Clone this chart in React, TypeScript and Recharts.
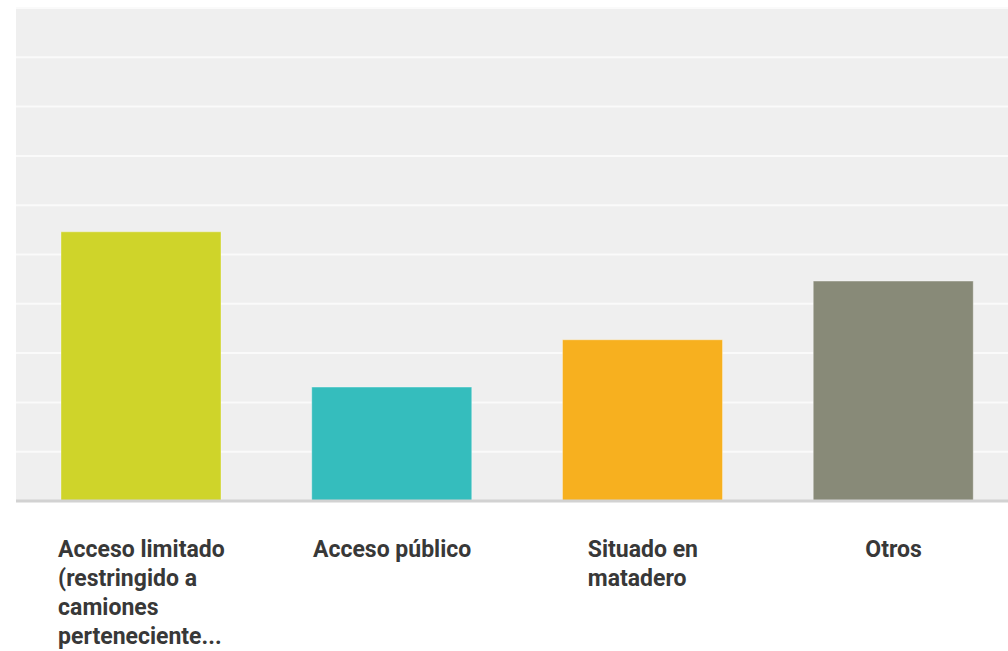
import React from "react";
import { BarChart, Bar, XAxis, YAxis, CartesianGrid, Cell } from "recharts";

const categories = [
  "Acceso limitado (restringido a camiones perteneciente...",
  "Acceso público",
  "Situado en matadero",
  "Otros",
];
const labelLines = [
  ["Acceso limitado", "(restringido a", "camiones", "perteneciente..."],
  ["Acceso público"],
  ["Situado en", "matadero"],
  ["Otros"],
];
const values = [5.46, 2.31, 3.27, 4.46];
const colors = ["#cfd42a", "#35bdbd", "#f7b01f", "#888a78"];
const yTicks = [0, 1, 2, 3, 4, 5, 6, 7, 8, 9, 10];

const data = categories.map((c, i) => ({ name: c, value: values[i] }));

const FONT = "bold 23px Roboto";
let ctx: CanvasRenderingContext2D | null = null;
function measure(t: string): number {
  if (typeof document === "undefined") return t.length * 11;
  if (!ctx) ctx = document.createElement("canvas").getContext("2d");
  if (!ctx) return t.length * 11;
  ctx.font = FONT;
  return ctx.measureText(t).width;
}

function Tick(props: any) {
  const { x, y, payload } = props;
  const idx = categories.indexOf(payload.value);
  const lines = labelLines[idx] || [String(payload.value)];
  const w = Math.max(...lines.map(measure));
  const left = x - w / 2;
  return (
    <g>
      {lines.map((l, i) => (
        <text
          key={i}
          x={left}
          y={y + 56 + i * 29}
          textAnchor="start"
          fill="#383838"
          style={{ fontFamily: "Roboto", fontWeight: 700, fontSize: 23 }}
        >
          {l}
        </text>
      ))}
    </g>
  );
}

function EmptyTick() {
  return <g />;
}

export default function App() {
  return (
    <div
      style={{
        position: "fixed",
        left: 0,
        top: 0,
        width: 1008,
        height: 651,
        overflow: "hidden",
        background: "#ffffff",
      }}
    >
      <BarChart
        width={1019}
        height={651}
        data={data}
        margin={{ top: 8, right: 0, left: 16, bottom: 0 }}
        barCategoryGap={0}
      >
        <CartesianGrid
          vertical={false}
          stroke="#fafafa"
          strokeWidth={2}
          fill="#efefef"
          fillOpacity={1}
        />
        <YAxis
          domain={[0, 10]}
          ticks={yTicks}
          interval={0}
          width={0}
          tick={<EmptyTick />}
          tickLine={false}
          axisLine={{ stroke: "#dcdcdc", strokeWidth: 4 }}
        />
        <XAxis
          dataKey="name"
          interval={0}
          height={150}
          tickLine={false}
          tickSize={0}
          tickMargin={0}
          axisLine={{ stroke: "#d2d2d2", strokeWidth: 3 }}
          tick={<Tick />}
        />
        <Bar
          dataKey="value"
          barSize={160}
          isAnimationActive={false}
          stroke="rgba(255,255,255,0.35)"
          strokeWidth={1}
        >
          {data.map((d, i) => (
            <Cell key={i} fill={colors[i]} />
          ))}
        </Bar>
      </BarChart>
    </div>
  );
}
